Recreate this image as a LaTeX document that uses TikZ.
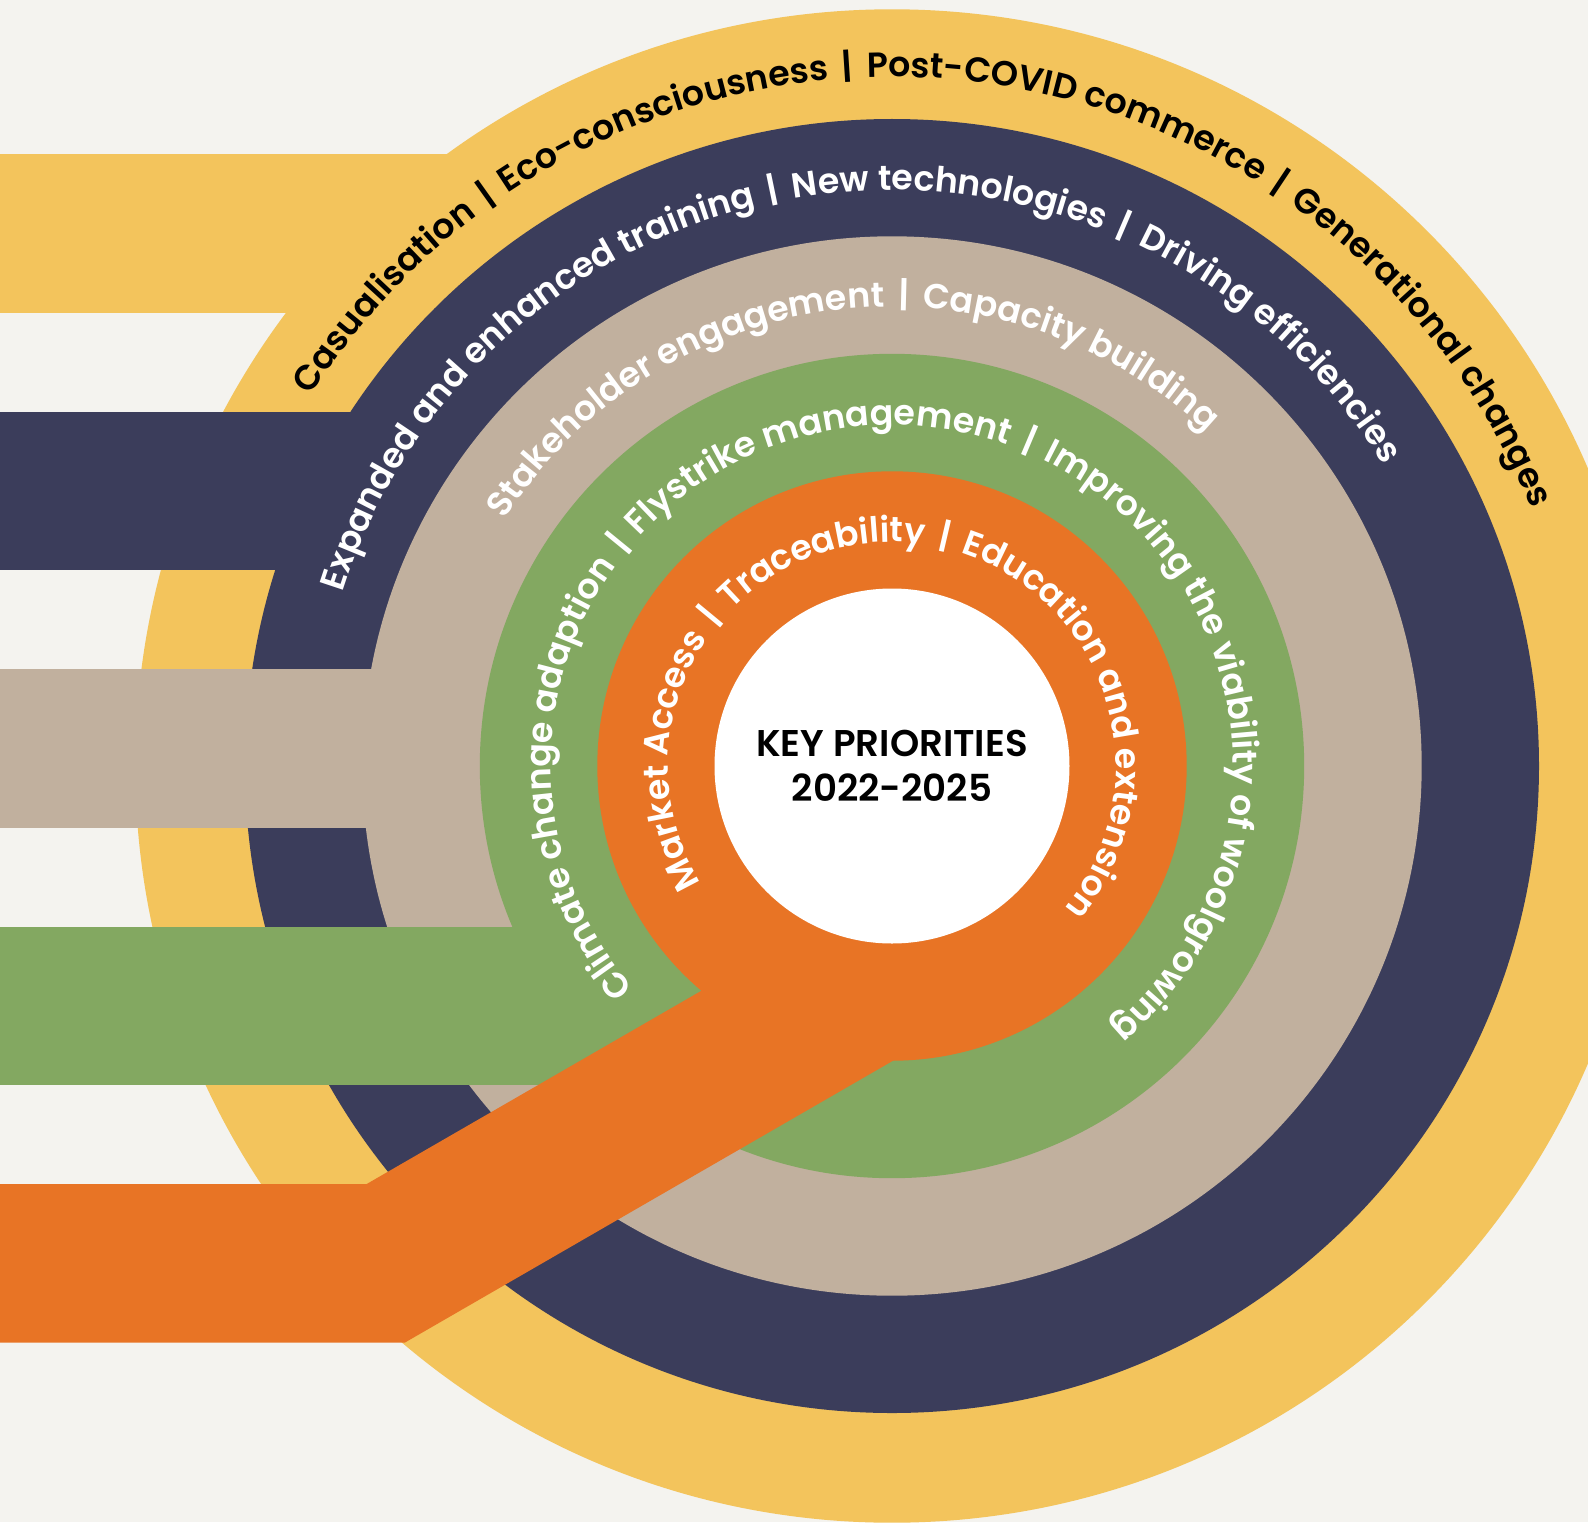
\documentclass[tikz,border=0pt]{standalone}
\usepackage{fontspec}
\usetikzlibrary{decorations.text}
\IfFontExistsTF{Poppins SemiBold}{\newfontfamily\ringfont{Poppins SemiBold}}{\newfontfamily\ringfont{Poppins}[FakeBold=1.5]}
\IfFontExistsTF{Poppins SemiBold}{\newfontfamily\titlefont{Poppins SemiBold}}{\newfontfamily\titlefont{Poppins}[FakeBold=1.5]}
\definecolor{bgc}{HTML}{F4F3EF}
\definecolor{yellowc}{HTML}{F3C45C}
\definecolor{navyc}{HTML}{3B3D5B}
\definecolor{beigec}{HTML}{C1B09E}
\definecolor{greenc}{HTML}{83A861}
\definecolor{orangec}{HTML}{E87425}
\newcommand{\rfont}{\ringfont\fontsize{17.4}{20}\selectfont}
\newcommand{\sepbar}{\kern2.6pt|\kern2.6pt}
\tikzset{
  ringtext/.style={decorate, decoration={text along path, text format delimiters={[}{]}, text align=center, text={#1}}},
  titletext/.style={font=\titlefont\fontsize{18.6}{20}\selectfont, anchor=base, inner sep=0pt, text=black}
}
\begin{document}
\begin{tikzpicture}[x=0.5pt,y=0.5pt]
\useasboundingbox (-892,-756) rectangle (696,766);
\fill[bgc] (-892,-756) rectangle (696,766);
\clip (-892,-756) rectangle (696,766);
% yellow
\fill[yellowc] (0,0) circle[radius=756.7];
\fill[yellowc] (-900,453.5) rectangle (0,612);
% navy
\fill[navyc] (0,0) circle[radius=647];
\fill[navyc] (-900,196) rectangle (0,354.5);
% beige
\fill[beigec] (0,0) circle[radius=529.7];
\fill[beigec] (-900,-61.5) rectangle (0,97);
% green
\fill[greenc] (0,0) circle[radius=412.2];
\fill[greenc] (-900,-319) rectangle (0,-160.5);
% orange
\fill[orangec] (0,0) circle[radius=294.7];
\fill[orangec] (-900,-418) -- (-525.3,-418) -- (40,-91.6) -- (40,-272.2) -- (-487,-576.5) -- (-900,-576.5) -- cycle;
% white centre
\fill[white] (0,0) circle[radius=177.5];
% ring texts
\path[ringtext={[\rfont\color{black}]Casualisation {\sepbar} Eco-consciousness {\sepbar} Post-COVID commerce {\sepbar} Generational changes}]
  (154.2:689) arc[start angle=154.2, end angle=15.2, radius=689];
\path[ringtext={[\rfont\color{white}]Expanded and enhanced training {\sepbar} New technologies {\sepbar} Driving efficiencies}]
  (170.2:576) arc[start angle=170.2, end angle=23.7, radius=576];
\path[ringtext={[\rfont\color{white}]Stakeholder engagement {\sepbar} Capacity building}]
  (155.3:459) arc[start angle=155.3, end angle=39, radius=459];
\path[ringtext={[\rfont\color{white}]Climate change adaption {\sepbar} Flystrike management {\sepbar} Improving the viability of woolgrowing}]
  (228.4:341) arc[start angle=228.4, end angle=-57.9, radius=341];
\path[ringtext={[\rfont\color{white}]Market Access {\sepbar} Traceability {\sepbar} Education and extension}]
  (217:224) arc[start angle=217, end angle=-45.1, radius=224];
% title
\node[titletext] (t1) at (0,9.3) {KEY PRIORITIES};
\node[titletext] (t2) at (0,-35.7) {2022-2025};
\end{tikzpicture}
\end{document}
